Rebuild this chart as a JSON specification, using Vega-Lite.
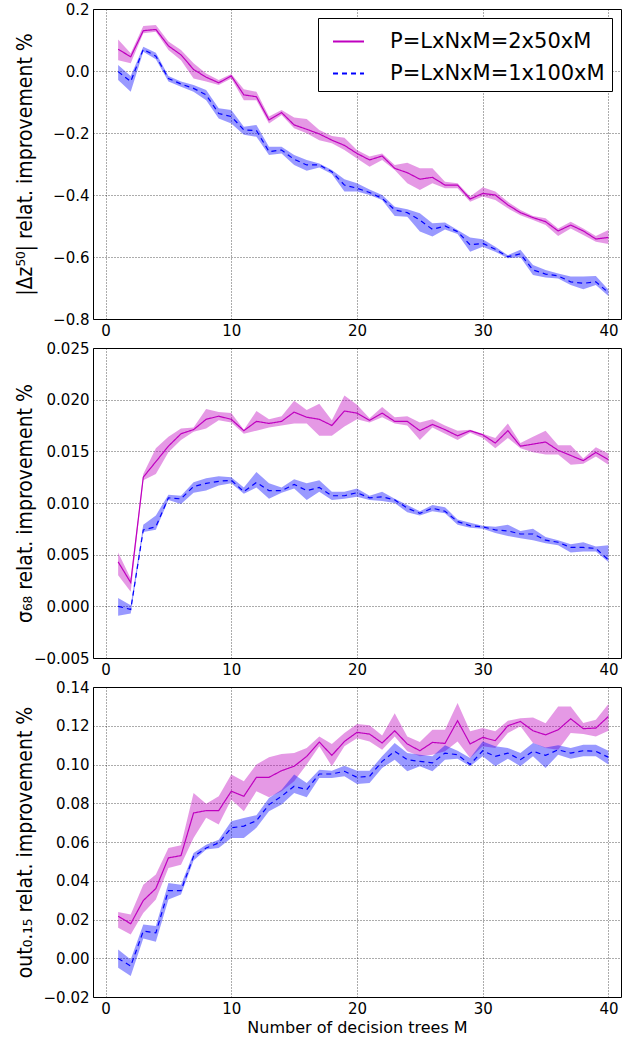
{
"$schema": "https://vega.github.io/schema/vega-lite/v6.json",
"padding": {"left": 13, "top": 1, "right": 0, "bottom": 0},
"background": "white",
"datasets": {
"p1": [
{"s":"a","M":1,"v":0.070,"lo":0.035,"hi":0.102},{"s":"a","M":2,"v":0.046,"lo":0.025,"hi":0.057},{"s":"a","M":3,"v":0.130,"lo":0.122,"hi":0.145},{"s":"a","M":4,"v":0.134,"lo":0.127,"hi":0.148},{"s":"a","M":5,"v":0.081,"lo":0.068,"hi":0.095},{"s":"a","M":6,"v":0.052,"lo":0.035,"hi":0.068},{"s":"a","M":7,"v":0.005,"lo":-0.024,"hi":0.025},{"s":"a","M":8,"v":-0.020,"lo":-0.034,"hi":-0.008},{"s":"a","M":9,"v":-0.038,"lo":-0.045,"hi":-0.029},{"s":"a","M":10,"v":-0.016,"lo":-0.024,"hi":-0.010},
{"s":"a","M":11,"v":-0.077,"lo":-0.094,"hi":-0.059},{"s":"a","M":12,"v":-0.083,"lo":-0.094,"hi":-0.067},{"s":"a","M":13,"v":-0.158,"lo":-0.169,"hi":-0.147},{"s":"a","M":14,"v":-0.134,"lo":-0.142,"hi":-0.126},{"s":"a","M":15,"v":-0.174,"lo":-0.185,"hi":-0.150},{"s":"a","M":16,"v":-0.188,"lo":-0.201,"hi":-0.155},{"s":"a","M":17,"v":-0.203,"lo":-0.223,"hi":-0.190},{"s":"a","M":18,"v":-0.223,"lo":-0.233,"hi":-0.210},{"s":"a","M":19,"v":-0.240,"lo":-0.255,"hi":-0.215},{"s":"a","M":20,"v":-0.266,"lo":-0.282,"hi":-0.255},
{"s":"a","M":21,"v":-0.287,"lo":-0.309,"hi":-0.276},{"s":"a","M":22,"v":-0.274,"lo":-0.287,"hi":-0.266},{"s":"a","M":23,"v":-0.314,"lo":-0.319,"hi":-0.303},{"s":"a","M":24,"v":-0.328,"lo":-0.362,"hi":-0.296},{"s":"a","M":25,"v":-0.349,"lo":-0.384,"hi":-0.314},{"s":"a","M":26,"v":-0.343,"lo":-0.362,"hi":-0.314},{"s":"a","M":27,"v":-0.368,"lo":-0.378,"hi":-0.357},{"s":"a","M":28,"v":-0.368,"lo":-0.378,"hi":-0.362},{"s":"a","M":29,"v":-0.413,"lo":-0.422,"hi":-0.405},{"s":"a","M":30,"v":-0.395,"lo":-0.405,"hi":-0.375},
{"s":"a","M":31,"v":-0.400,"lo":-0.416,"hi":-0.389},{"s":"a","M":32,"v":-0.432,"lo":-0.443,"hi":-0.422},{"s":"a","M":33,"v":-0.457,"lo":-0.465,"hi":-0.448},{"s":"a","M":34,"v":-0.473,"lo":-0.481,"hi":-0.468},{"s":"a","M":35,"v":-0.486,"lo":-0.497,"hi":-0.475},{"s":"a","M":36,"v":-0.516,"lo":-0.532,"hi":-0.508},{"s":"a","M":37,"v":-0.497,"lo":-0.508,"hi":-0.486},{"s":"a","M":38,"v":-0.516,"lo":-0.529,"hi":-0.508},{"s":"a","M":39,"v":-0.542,"lo":-0.551,"hi":-0.532},{"s":"a","M":40,"v":-0.537,"lo":-0.558,"hi":-0.513},
{"s":"b","M":1,"v":-0.002,"lo":-0.029,"hi":0.019},{"s":"b","M":2,"v":-0.034,"lo":-0.067,"hi":-0.016},{"s":"b","M":3,"v":0.070,"lo":0.062,"hi":0.078},{"s":"b","M":4,"v":0.048,"lo":0.038,"hi":0.059},{"s":"b","M":5,"v":-0.024,"lo":-0.034,"hi":-0.016},{"s":"b","M":6,"v":-0.042,"lo":-0.051,"hi":-0.034},{"s":"b","M":7,"v":-0.056,"lo":-0.067,"hi":-0.045},{"s":"b","M":8,"v":-0.077,"lo":-0.094,"hi":-0.061},{"s":"b","M":9,"v":-0.137,"lo":-0.153,"hi":-0.120},{"s":"b","M":10,"v":-0.147,"lo":-0.169,"hi":-0.126},
{"s":"b","M":11,"v":-0.190,"lo":-0.206,"hi":-0.180},{"s":"b","M":12,"v":-0.192,"lo":-0.212,"hi":-0.174},{"s":"b","M":13,"v":-0.260,"lo":-0.271,"hi":-0.244},{"s":"b","M":14,"v":-0.255,"lo":-0.266,"hi":-0.244},{"s":"b","M":15,"v":-0.285,"lo":-0.303,"hi":-0.271},{"s":"b","M":16,"v":-0.303,"lo":-0.322,"hi":-0.287},{"s":"b","M":17,"v":-0.303,"lo":-0.311,"hi":-0.298},{"s":"b","M":18,"v":-0.325,"lo":-0.332,"hi":-0.319},{"s":"b","M":19,"v":-0.368,"lo":-0.389,"hi":-0.349},{"s":"b","M":20,"v":-0.378,"lo":-0.389,"hi":-0.362},
{"s":"b","M":21,"v":-0.392,"lo":-0.400,"hi":-0.382},{"s":"b","M":22,"v":-0.411,"lo":-0.416,"hi":-0.400},{"s":"b","M":23,"v":-0.448,"lo":-0.468,"hi":-0.438},{"s":"b","M":24,"v":-0.457,"lo":-0.470,"hi":-0.446},{"s":"b","M":25,"v":-0.481,"lo":-0.518,"hi":-0.459},{"s":"b","M":26,"v":-0.511,"lo":-0.534,"hi":-0.491},{"s":"b","M":27,"v":-0.500,"lo":-0.511,"hi":-0.489},{"s":"b","M":28,"v":-0.518,"lo":-0.526,"hi":-0.513},{"s":"b","M":29,"v":-0.561,"lo":-0.583,"hi":-0.537},{"s":"b","M":30,"v":-0.556,"lo":-0.567,"hi":-0.543},
{"s":"b","M":31,"v":-0.575,"lo":-0.583,"hi":-0.567},{"s":"b","M":32,"v":-0.599,"lo":-0.604,"hi":-0.594},{"s":"b","M":33,"v":-0.590,"lo":-0.601,"hi":-0.577},{"s":"b","M":34,"v":-0.642,"lo":-0.658,"hi":-0.626},{"s":"b","M":35,"v":-0.655,"lo":-0.666,"hi":-0.642},{"s":"b","M":36,"v":-0.661,"lo":-0.669,"hi":-0.653},{"s":"b","M":37,"v":-0.680,"lo":-0.690,"hi":-0.663},{"s":"b","M":38,"v":-0.685,"lo":-0.704,"hi":-0.663},{"s":"b","M":39,"v":-0.680,"lo":-0.690,"hi":-0.661},{"s":"b","M":40,"v":-0.715,"lo":-0.726,"hi":-0.706}
],
"p2": [
{"s":"a","M":1,"v":0.0043,"lo":0.0030,"hi":0.0052},{"s":"a","M":2,"v":0.0023,"lo":0.0014,"hi":0.0027},{"s":"a","M":3,"v":0.0125,"lo":0.0122,"hi":0.0128},{"s":"a","M":4,"v":0.0140,"lo":0.0128,"hi":0.0153},{"s":"a","M":5,"v":0.0155,"lo":0.0149,"hi":0.0164},{"s":"a","M":6,"v":0.0167,"lo":0.0161,"hi":0.0172},{"s":"a","M":7,"v":0.0171,"lo":0.0169,"hi":0.0173},{"s":"a","M":8,"v":0.0181,"lo":0.0172,"hi":0.0191},{"s":"a","M":9,"v":0.0184,"lo":0.0180,"hi":0.0188},{"s":"a","M":10,"v":0.0181,"lo":0.0178,"hi":0.0187},
{"s":"a","M":11,"v":0.0170,"lo":0.0167,"hi":0.0171},{"s":"a","M":12,"v":0.0179,"lo":0.0170,"hi":0.0189},{"s":"a","M":13,"v":0.0177,"lo":0.0173,"hi":0.0181},{"s":"a","M":14,"v":0.0179,"lo":0.0175,"hi":0.0184},{"s":"a","M":15,"v":0.0188,"lo":0.0177,"hi":0.0199},{"s":"a","M":16,"v":0.0183,"lo":0.0177,"hi":0.0190},{"s":"a","M":17,"v":0.0181,"lo":0.0165,"hi":0.0196},{"s":"a","M":18,"v":0.0175,"lo":0.0165,"hi":0.0180},{"s":"a","M":19,"v":0.0189,"lo":0.0174,"hi":0.0204},{"s":"a","M":20,"v":0.0187,"lo":0.0181,"hi":0.0195},
{"s":"a","M":21,"v":0.0180,"lo":0.0178,"hi":0.0182},{"s":"a","M":22,"v":0.0187,"lo":0.0183,"hi":0.0193},{"s":"a","M":23,"v":0.0179,"lo":0.0177,"hi":0.0183},{"s":"a","M":24,"v":0.0179,"lo":0.0175,"hi":0.0184},{"s":"a","M":25,"v":0.0170,"lo":0.0161,"hi":0.0178},{"s":"a","M":26,"v":0.0176,"lo":0.0173,"hi":0.0181},{"s":"a","M":27,"v":0.0171,"lo":0.0167,"hi":0.0175},{"s":"a","M":28,"v":0.0165,"lo":0.0161,"hi":0.0170},{"s":"a","M":29,"v":0.0170,"lo":0.0168,"hi":0.0171},{"s":"a","M":30,"v":0.0166,"lo":0.0163,"hi":0.0167},
{"s":"a","M":31,"v":0.0158,"lo":0.0153,"hi":0.0163},{"s":"a","M":32,"v":0.0170,"lo":0.0163,"hi":0.0177},{"s":"a","M":33,"v":0.0155,"lo":0.0153,"hi":0.0158},{"s":"a","M":34,"v":0.0157,"lo":0.0149,"hi":0.0164},{"s":"a","M":35,"v":0.0159,"lo":0.0147,"hi":0.0170},{"s":"a","M":36,"v":0.0151,"lo":0.0147,"hi":0.0156},{"s":"a","M":37,"v":0.0146,"lo":0.0137,"hi":0.0156},{"s":"a","M":38,"v":0.0141,"lo":0.0138,"hi":0.0143},{"s":"a","M":39,"v":0.0149,"lo":0.0145,"hi":0.0154},{"s":"a","M":40,"v":0.0142,"lo":0.0137,"hi":0.0148},
{"s":"b","M":1,"v":0.0000,"lo":-0.0009,"hi":0.0008},{"s":"b","M":2,"v":-0.0003,"lo":-0.0007,"hi":0.0001},{"s":"b","M":3,"v":0.0074,"lo":0.0072,"hi":0.0079},{"s":"b","M":4,"v":0.0077,"lo":0.0074,"hi":0.0088},{"s":"b","M":5,"v":0.0105,"lo":0.0103,"hi":0.0108},{"s":"b","M":6,"v":0.0104,"lo":0.0099,"hi":0.0107},{"s":"b","M":7,"v":0.0116,"lo":0.0110,"hi":0.0120},{"s":"b","M":8,"v":0.0119,"lo":0.0112,"hi":0.0124},{"s":"b","M":9,"v":0.0121,"lo":0.0117,"hi":0.0126},{"s":"b","M":10,"v":0.0122,"lo":0.0119,"hi":0.0125},
{"s":"b","M":11,"v":0.0111,"lo":0.0109,"hi":0.0115},{"s":"b","M":12,"v":0.0120,"lo":0.0115,"hi":0.0130},{"s":"b","M":13,"v":0.0112,"lo":0.0104,"hi":0.0119},{"s":"b","M":14,"v":0.0112,"lo":0.0110,"hi":0.0115},{"s":"b","M":15,"v":0.0118,"lo":0.0114,"hi":0.0123},{"s":"b","M":16,"v":0.0112,"lo":0.0103,"hi":0.0119},{"s":"b","M":17,"v":0.0115,"lo":0.0111,"hi":0.0122},{"s":"b","M":18,"v":0.0107,"lo":0.0103,"hi":0.0111},{"s":"b","M":19,"v":0.0107,"lo":0.0104,"hi":0.0111},{"s":"b","M":20,"v":0.0110,"lo":0.0106,"hi":0.0114},
{"s":"b","M":21,"v":0.0105,"lo":0.0103,"hi":0.0107},{"s":"b","M":22,"v":0.0106,"lo":0.0102,"hi":0.0111},{"s":"b","M":23,"v":0.0103,"lo":0.0100,"hi":0.0104},{"s":"b","M":24,"v":0.0095,"lo":0.0091,"hi":0.0098},{"s":"b","M":25,"v":0.0090,"lo":0.0088,"hi":0.0092},{"s":"b","M":26,"v":0.0095,"lo":0.0092,"hi":0.0098},{"s":"b","M":27,"v":0.0092,"lo":0.0090,"hi":0.0096},{"s":"b","M":28,"v":0.0082,"lo":0.0079,"hi":0.0084},{"s":"b","M":29,"v":0.0078,"lo":0.0076,"hi":0.0081},{"s":"b","M":30,"v":0.0077,"lo":0.0075,"hi":0.0078},
{"s":"b","M":31,"v":0.0074,"lo":0.0071,"hi":0.0077},{"s":"b","M":32,"v":0.0073,"lo":0.0068,"hi":0.0079},{"s":"b","M":33,"v":0.0070,"lo":0.0066,"hi":0.0073},{"s":"b","M":34,"v":0.0070,"lo":0.0064,"hi":0.0075},{"s":"b","M":35,"v":0.0064,"lo":0.0061,"hi":0.0067},{"s":"b","M":36,"v":0.0062,"lo":0.0059,"hi":0.0064},{"s":"b","M":37,"v":0.0057,"lo":0.0052,"hi":0.0060},{"s":"b","M":38,"v":0.0057,"lo":0.0053,"hi":0.0062},{"s":"b","M":39,"v":0.0056,"lo":0.0053,"hi":0.0058},{"s":"b","M":40,"v":0.0045,"lo":0.0043,"hi":0.0059}
],
"p3": [
{"s":"a","M":1,"v":0.0217,"lo":0.0157,"hi":0.0239},{"s":"a","M":2,"v":0.0178,"lo":0.0123,"hi":0.0226},{"s":"a","M":3,"v":0.0298,"lo":0.0234,"hi":0.0380},{"s":"a","M":4,"v":0.0360,"lo":0.0303,"hi":0.0432},{"s":"a","M":5,"v":0.0518,"lo":0.0466,"hi":0.0569},{"s":"a","M":6,"v":0.0530,"lo":0.0483,"hi":0.0583},{"s":"a","M":7,"v":0.0750,"lo":0.0621,"hi":0.0853},{"s":"a","M":8,"v":0.0762,"lo":0.0725,"hi":0.0797},{"s":"a","M":9,"v":0.0762,"lo":0.0690,"hi":0.0836},{"s":"a","M":10,"v":0.0862,"lo":0.0819,"hi":0.0948},
{"s":"a","M":11,"v":0.0836,"lo":0.0759,"hi":0.0913},{"s":"a","M":12,"v":0.0934,"lo":0.0862,"hi":0.1000},{"s":"a","M":13,"v":0.0934,"lo":0.0831,"hi":0.1037},{"s":"a","M":14,"v":0.0968,"lo":0.0862,"hi":0.1054},{"s":"a","M":15,"v":0.0991,"lo":0.0913,"hi":0.1059},{"s":"a","M":16,"v":0.1042,"lo":0.1000,"hi":0.1085},{"s":"a","M":17,"v":0.1116,"lo":0.1094,"hi":0.1145},{"s":"a","M":18,"v":0.1047,"lo":0.0991,"hi":0.1106},{"s":"a","M":19,"v":0.1119,"lo":0.1094,"hi":0.1162},{"s":"a","M":20,"v":0.1166,"lo":0.1136,"hi":0.1209},
{"s":"a","M":21,"v":0.1157,"lo":0.1119,"hi":0.1202},{"s":"a","M":22,"v":0.1111,"lo":0.1076,"hi":0.1150},{"s":"a","M":23,"v":0.1174,"lo":0.1145,"hi":0.1265},{"s":"a","M":24,"v":0.1106,"lo":0.1068,"hi":0.1145},{"s":"a","M":25,"v":0.1071,"lo":0.1042,"hi":0.1116},{"s":"a","M":26,"v":0.1114,"lo":0.1050,"hi":0.1179},{"s":"a","M":27,"v":0.1109,"lo":0.1068,"hi":0.1179},{"s":"a","M":28,"v":0.1226,"lo":0.1119,"hi":0.1317},{"s":"a","M":29,"v":0.1106,"lo":0.1033,"hi":0.1171},{"s":"a","M":30,"v":0.1140,"lo":0.1094,"hi":0.1188},
{"s":"a","M":31,"v":0.1123,"lo":0.1085,"hi":0.1171},{"s":"a","M":32,"v":0.1200,"lo":0.1162,"hi":0.1226},{"s":"a","M":33,"v":0.1222,"lo":0.1197,"hi":0.1239},{"s":"a","M":34,"v":0.1174,"lo":0.1111,"hi":0.1243},{"s":"a","M":35,"v":0.1153,"lo":0.1085,"hi":0.1213},{"s":"a","M":36,"v":0.1179,"lo":0.1076,"hi":0.1300},{"s":"a","M":37,"v":0.1236,"lo":0.1162,"hi":0.1300},{"s":"a","M":38,"v":0.1185,"lo":0.1157,"hi":0.1214},{"s":"a","M":39,"v":0.1188,"lo":0.1145,"hi":0.1231},{"s":"a","M":40,"v":0.1248,"lo":0.1174,"hi":0.1312},
{"s":"b","M":1,"v":-0.0001,"lo":-0.0049,"hi":0.0045},{"s":"b","M":2,"v":-0.0040,"lo":-0.0092,"hi":-0.0006},{"s":"b","M":3,"v":0.0140,"lo":0.0102,"hi":0.0174},{"s":"b","M":4,"v":0.0131,"lo":0.0085,"hi":0.0166},{"s":"b","M":5,"v":0.0349,"lo":0.0303,"hi":0.0389},{"s":"b","M":6,"v":0.0349,"lo":0.0329,"hi":0.0380},{"s":"b","M":7,"v":0.0526,"lo":0.0504,"hi":0.0543},{"s":"b","M":8,"v":0.0569,"lo":0.0561,"hi":0.0586},{"s":"b","M":9,"v":0.0595,"lo":0.0569,"hi":0.0612},{"s":"b","M":10,"v":0.0673,"lo":0.0621,"hi":0.0707},
{"s":"b","M":11,"v":0.0682,"lo":0.0621,"hi":0.0724},{"s":"b","M":12,"v":0.0710,"lo":0.0673,"hi":0.0738},{"s":"b","M":13,"v":0.0793,"lo":0.0759,"hi":0.0827},{"s":"b","M":14,"v":0.0836,"lo":0.0793,"hi":0.0870},{"s":"b","M":15,"v":0.0888,"lo":0.0853,"hi":0.0948},{"s":"b","M":16,"v":0.0870,"lo":0.0831,"hi":0.0905},{"s":"b","M":17,"v":0.0951,"lo":0.0930,"hi":0.0973},{"s":"b","M":18,"v":0.0951,"lo":0.0930,"hi":0.0968},{"s":"b","M":19,"v":0.0965,"lo":0.0939,"hi":0.0994},{"s":"b","M":20,"v":0.0934,"lo":0.0900,"hi":0.0968},
{"s":"b","M":21,"v":0.0939,"lo":0.0905,"hi":0.0968},{"s":"b","M":22,"v":0.1016,"lo":0.0982,"hi":0.1042},{"s":"b","M":23,"v":0.1068,"lo":0.1025,"hi":0.1111},{"s":"b","M":24,"v":0.1025,"lo":0.0965,"hi":0.1059},{"s":"b","M":25,"v":0.1016,"lo":0.0991,"hi":0.1050},{"s":"b","M":26,"v":0.1008,"lo":0.0965,"hi":0.1042},{"s":"b","M":27,"v":0.1059,"lo":0.1025,"hi":0.1099},{"s":"b","M":28,"v":0.1050,"lo":0.1030,"hi":0.1071},{"s":"b","M":29,"v":0.1000,"lo":0.0991,"hi":0.1033},{"s":"b","M":30,"v":0.1071,"lo":0.1042,"hi":0.1119},
{"s":"b","M":31,"v":0.1042,"lo":0.0991,"hi":0.1094},{"s":"b","M":32,"v":0.1059,"lo":0.1030,"hi":0.1085},{"s":"b","M":33,"v":0.1025,"lo":0.0991,"hi":0.1059},{"s":"b","M":34,"v":0.1068,"lo":0.1042,"hi":0.1111},{"s":"b","M":35,"v":0.1047,"lo":0.0982,"hi":0.1088},{"s":"b","M":36,"v":0.1076,"lo":0.1050,"hi":0.1099},{"s":"b","M":37,"v":0.1059,"lo":0.1030,"hi":0.1085},{"s":"b","M":38,"v":0.1071,"lo":0.1042,"hi":0.1102},{"s":"b","M":39,"v":0.1068,"lo":0.1042,"hi":0.1102},{"s":"b","M":40,"v":0.1037,"lo":0.1000,"hi":0.1071}
]
},
"spacing": 29,
"bounds": "flush",
"resolve": {"scale": {"color": "independent", "strokeDash": "independent", "fill": "independent"}},
"vconcat": [
{
"width": 528, "height": 310,
"data": {"name": "p1"},
"encoding": {"x": {"field": "M", "type": "quantitative", "scale": {"domain": [-1, 41], "nice": false, "zero": false}, "axis": {"values": [0, 10, 20, 30, 40], "title": null}}},
"layer": [
{"mark": {"type": "area", "fillOpacity": 0.4},
 "encoding": {
  "y": {"field": "lo", "type": "quantitative", "scale": {"domain": [-0.8, 0.2], "nice": false, "zero": false}, "axis": {"values": [-0.8, -0.6, -0.4, -0.2, 0.0, 0.2], "format": ".1f", "title": "|Δz⁵⁰| relat. improvement %"}},
  "y2": {"field": "hi"},
  "fill": {"field": "s", "type": "nominal", "scale": {"domain": ["a", "b"], "range": ["#bf00bf", "#0000ff"]}, "legend": null}}},
{"mark": {"type": "line", "strokeWidth": 1.2},
 "encoding": {
  "y": {"field": "v", "type": "quantitative", "axis": {"values": [-0.8, -0.6, -0.4, -0.2, 0.0, 0.2], "format": ".1f", "title": "|Δz⁵⁰| relat. improvement %"}},
  "stroke": {"field": "s", "type": "nominal", "scale": {"domain": ["a", "b"], "range": ["#bf00bf", "#0000ff"]},
    "legend": {"orient": "top-right", "offset": 9, "title": null, "labelExpr": "datum.label == 'a' ? 'P=LxNxM=2x50xM' : 'P=LxNxM=1x100xM'",
      "labelFont": "DejaVu Sans", "labelFontSize": 21, "labelColor": "black", "labelLimit": 400, "symbolType": "stroke", "symbolSize": 961, "symbolStrokeWidth": 2, "symbolOffset": 7,
      "strokeColor": "black", "fillColor": "white", "padding": 7, "labelOffset": 25, "rowPadding": 5, "cornerRadius": 0,
      "encode": {"symbols": {"update": {"strokeDash": {"signal": "datum.value == 'b' ? [5, 4] : [1, 0]"}}}}}},
  "strokeDash": {"field": "s", "type": "nominal", "scale": {"domain": ["a", "b"], "range": [[1, 0], [5, 4]]},
    "legend": {"orient": "top-right", "offset": 9, "title": null, "labelExpr": "datum.label == 'a' ? 'P=LxNxM=2x50xM' : 'P=LxNxM=1x100xM'",
      "labelFont": "DejaVu Sans", "labelFontSize": 21, "labelColor": "black", "labelLimit": 400, "symbolType": "stroke", "symbolSize": 961, "symbolStrokeWidth": 2, "symbolOffset": 7,
      "strokeColor": "black", "fillColor": "white", "padding": 7, "labelOffset": 25, "rowPadding": 5, "cornerRadius": 0,
      "encode": {"symbols": {"update": {"strokeDash": {"signal": "datum.value == 'b' ? [5, 4] : [1, 0]"}}}}}}}}
]
},
{
"width": 528, "height": 310,
"data": {"name": "p2"},
"encoding": {"x": {"field": "M", "type": "quantitative", "scale": {"domain": [-1, 41], "nice": false, "zero": false}, "axis": {"values": [0, 10, 20, 30, 40], "title": null}}},
"layer": [
{"mark": {"type": "area", "fillOpacity": 0.4},
 "encoding": {
  "y": {"field": "lo", "type": "quantitative", "scale": {"domain": [-0.005, 0.025], "nice": false, "zero": false}, "axis": {"values": [-0.005, 0, 0.005, 0.01, 0.015, 0.02, 0.025], "format": ".3f", "title": "σ₆₈ relat. improvement %"}},
  "y2": {"field": "hi"},
  "fill": {"field": "s", "type": "nominal", "scale": {"domain": ["a", "b"], "range": ["#bf00bf", "#0000ff"]}, "legend": null}}},
{"mark": {"type": "line", "strokeWidth": 1.2},
 "encoding": {
  "y": {"field": "v", "type": "quantitative", "axis": {"values": [-0.005, 0, 0.005, 0.01, 0.015, 0.02, 0.025], "format": ".3f", "title": "σ₆₈ relat. improvement %"}},
  "stroke": {"field": "s", "type": "nominal", "scale": {"domain": ["a", "b"], "range": ["#bf00bf", "#0000ff"]}, "legend": null},
  "strokeDash": {"field": "s", "type": "nominal", "scale": {"domain": ["a", "b"], "range": [[1, 0], [5, 4]]}, "legend": null}}}
]
},
{
"width": 528, "height": 310,
"data": {"name": "p3"},
"encoding": {"x": {"field": "M", "type": "quantitative", "scale": {"domain": [-1, 41], "nice": false, "zero": false}, "axis": {"values": [0, 10, 20, 30, 40], "title": "Number of decision trees M"}}},
"layer": [
{"mark": {"type": "area", "fillOpacity": 0.4},
 "encoding": {
  "y": {"field": "lo", "type": "quantitative", "scale": {"domain": [-0.02, 0.14], "nice": false, "zero": false}, "axis": {"values": [-0.02, 0, 0.02, 0.04, 0.06, 0.08, 0.1, 0.12, 0.14], "format": ".2f", "title": "out₀.₁₅ relat. improvement %"}},
  "y2": {"field": "hi"},
  "fill": {"field": "s", "type": "nominal", "scale": {"domain": ["a", "b"], "range": ["#bf00bf", "#0000ff"]}, "legend": null}}},
{"mark": {"type": "line", "strokeWidth": 1.2},
 "encoding": {
  "y": {"field": "v", "type": "quantitative", "axis": {"values": [-0.02, 0, 0.02, 0.04, 0.06, 0.08, 0.1, 0.12, 0.14], "format": ".2f", "title": "out₀.₁₅ relat. improvement %"}},
  "stroke": {"field": "s", "type": "nominal", "scale": {"domain": ["a", "b"], "range": ["#bf00bf", "#0000ff"]}, "legend": null},
  "strokeDash": {"field": "s", "type": "nominal", "scale": {"domain": ["a", "b"], "range": [[1, 0], [5, 4]]}, "legend": null}}}
]
}
],
"config": {
 "view": {"stroke": "black", "strokeWidth": 1},
 "axis": {"grid": true, "gridColor": "#000", "gridDash": [1, 2], "gridOpacity": 0.65, "gridWidth": 1, "domain": false, "ticks": false,
   "labelFont": "DejaVu Sans", "labelFontSize": 15, "labelColor": "black", "labelPadding": 4, "labelOverlap": false,
   "titleFont": "DejaVu Sans", "titleColor": "black", "titleFontWeight": "normal"},
 "axisX": {"titleFontSize": 16, "titlePadding": 3},
 "axisY": {"titleFont": "DejaVu Sans Condensed, Roboto", "titleFontSize": 21, "titleAngle": 270, "titleX": -62, "titleY": 155, "titleAlign": "center", "titleBaseline": "alphabetic"}
}
}
